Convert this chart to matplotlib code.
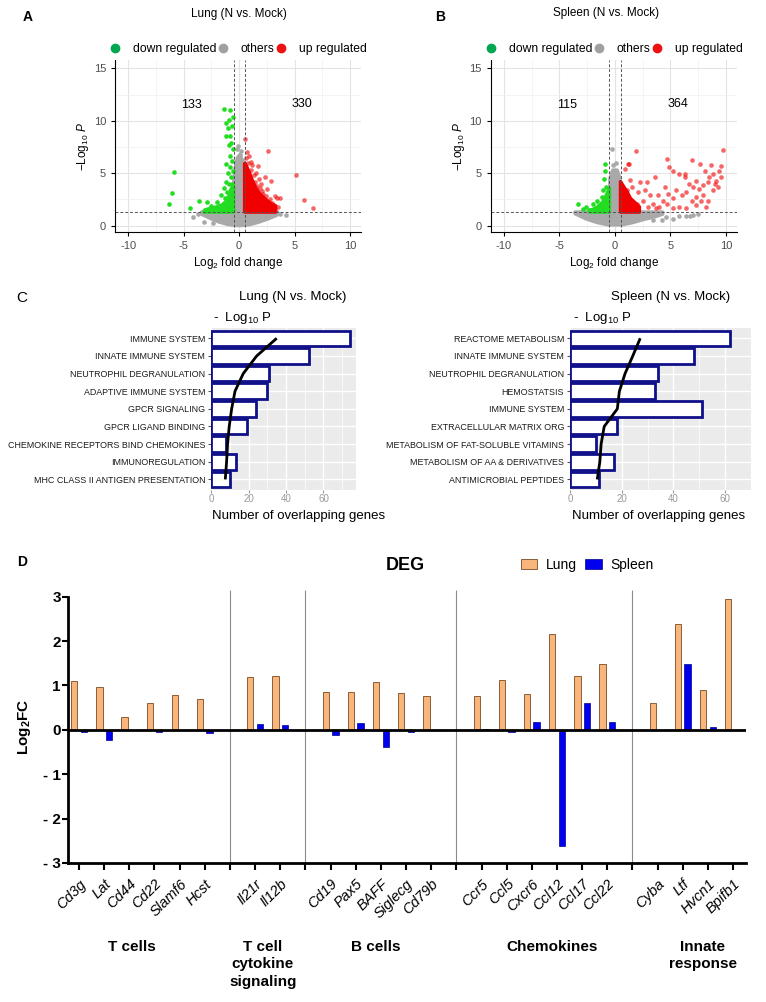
import numpy as np
import matplotlib.pyplot as plt
from matplotlib.lines import Line2D
from matplotlib.patches import Patch, Polygon
from matplotlib import font_manager
import matplotlib.transforms as mtransforms

plt.rcParams['font.family'] = ['Liberation Sans', 'DejaVu Sans']
plt.rcParams['mathtext.fontset'] = 'custom'
plt.rcParams['mathtext.rm'] = 'Liberation Sans'
plt.rcParams['mathtext.it'] = 'Liberation Sans:italic'
plt.rcParams['mathtext.bf'] = 'Liberation Sans:bold'

# ---------------- data: volcano plots ----------------
# dense regions are kept as outlines, sparse points as single dots
lung_grey_env_x = [-3.4, -2.6, -1.8, -1.0, -0.3, 0.3, 1.0, 1.8, 2.6, 3.4, 3.5, 0.5, 0.45, 0.3, 0.1, -0.15, -0.35, -0.5, -0.5, -3.4]
lung_grey_env_y = [1.1, 0.7, 0.35, 0.12, 0.02, 0.02, 0.12, 0.35, 0.65, 1.0, 1.3, 1.3, 4.8, 6.0, 6.8, 6.5, 5.5, 4.0, 1.3, 1.3]
lung_grey_x = [-4.2, -3.2, -2.4, 4.2, -0.2, 0.1, 0.3, -0.1, 3.7, -3.7, 0.2, -0.3]
lung_grey_y = [0.8, 0.4, 0.3, 1.0, 7.3, 6.7, 6.3, 7.6, 1.1, 1.1, 7.1, 6.0]

lung_green_env_x = [-3.1, -0.5, -0.5, -0.65, -0.85, -1.1, -1.5, -2.0, -2.6, -3.1]
lung_green_env_y = [1.3, 1.3, 3.8, 3.6, 3.0, 2.4, 2.0, 1.8, 1.65, 1.5]
lung_green_x = [-5.9, -6.1, -6.3, -4.4, -3.6, -2.9, -2.0, -1.4, -0.85, -0.9, -1.2, -1.0, -1.15, -0.85,
                -0.7, -0.9, -0.85, -1.15, -0.8, -1.0, -0.75, -1.2, -0.9, -1.4, -0.7, -1.1, -0.6, -1.6,
                -0.8, -1.3, -2.5, -2.2, -1.9, -1.6, -1.2, -1.0, -0.7, -0.6, -0.9, -1.4, -2.8, -3.2,
                -1.7, -0.55, -1.1, -0.65, -0.6, -0.55, -0.6, -0.55, -0.6, -0.55]
lung_green_y = [5.1, 3.1, 2.1, 1.7, 2.4, 2.3, 2.3, 11.1, 11.0, 10.1, 9.8, 9.3, 8.6, 8.6,
                7.9, 7.7, 6.6, 5.9, 5.6, 5.0, 4.6, 4.2, 4.0, 3.6, 3.5, 3.2, 3.0, 2.9,
                2.7, 2.6, 1.9, 1.6, 1.5, 1.8, 1.9, 2.2, 2.3, 1.9, 1.6, 1.5, 1.5, 1.45,
                1.4, 1.5, 1.4, 2.6, 4.0, 5.2, 6.2, 7.3, 9.5, 10.4]

lung_red_env_x = [0.5, 3.3, 3.3, 2.9, 2.4, 1.9, 1.5, 1.2, 0.95, 0.7, 0.5]
lung_red_env_y = [1.3, 1.3, 1.9, 2.1, 2.5, 3.0, 3.6, 4.3, 5.0, 5.6, 6.0]
lung_red_x = [0.5, 2.6, 1.1, 1.7, 5.1, 2.3, 2.85, 3.2, 3.7, 5.85, 6.7, 1.2, 1.5, 0.9, 2.0,
              2.5, 2.2, 2.8, 3.0, 1.8, 0.7, 1.1, 2.6, 3.4, 1.4, 0.6, 0.8, 1.3, 2.1, 1.6,
              3.5, 3.1, 2.4, 1.9]
lung_red_y = [8.3, 7.1, 6.1, 5.7, 4.8, 4.6, 4.3, 2.8, 2.6, 2.45, 1.7, 5.8, 5.0, 6.6, 4.0,
              3.5, 3.0, 2.5, 2.2, 4.5, 7.0, 5.3, 2.0, 2.6, 4.2, 6.5, 6.0, 4.8, 3.3, 3.8,
              1.8, 1.6, 2.8, 3.6]

spleen_grey_env_x = [-3.6, -2.6, -1.6, -0.6, 0.6, 1.6, 2.6, 3.6, 4.3, 4.3, 0.5, 0.45, 0.2, -0.2, -0.45, -0.5, -3.6]
spleen_grey_env_y = [1.15, 0.65, 0.3, 0.08, 0.08, 0.3, 0.6, 0.85, 1.1, 1.3, 1.3, 4.5, 5.3, 5.3, 4.5, 1.3, 1.3]
spleen_grey_x = [-0.3, 3.4, 5.8, 6.4, 4.6, 5.2, 7.0, 7.5, 4.2, 0.1, -0.2, 6.8]
spleen_grey_y = [7.3, 0.55, 0.95, 0.95, 0.8, 0.6, 1.0, 1.1, 0.5, 6.0, 5.8, 0.9]

spleen_green_env_x = [-2.3, -0.5, -0.5, -0.7, -1.0, -1.4, -1.9, -2.3]
spleen_green_env_y = [1.3, 1.3, 3.6, 3.1, 2.4, 1.9, 1.6, 1.45]
spleen_green_x = [-3.3, -2.9, -2.6, -2.0, -1.6, -1.2, -1.0, -0.9, -0.87, -0.78, -0.72, -1.1, -1.4, -2.3, -0.9, -1.7]
spleen_green_y = [2.1, 1.6, 1.8, 2.05, 2.4, 2.7, 4.5, 5.9, 5.25, 3.7, 3.05, 3.4, 1.95, 1.5, 2.4, 1.5]

spleen_red_env_x = [0.5, 2.2, 2.2, 1.8, 1.4, 1.1, 0.8, 0.5]
spleen_red_env_y = [1.3, 1.3, 1.8, 2.2, 2.6, 3.2, 3.7, 4.2]
spleen_red_x = [1.9, 9.7, 4.65, 6.9, 7.7, 8.7, 9.6, 1.2, 0.9, 5.2, 5.8, 6.3, 8.15, 8.8, 9.4,
                9.1, 8.5, 8.4, 9.0, 8.8, 7.3, 6.7, 7.0, 7.6, 7.9, 7.3, 6.9, 6.4, 6.0, 5.5,
                5.2, 4.8, 4.3, 3.9, 3.4, 3.6, 2.85, 2.25, 1.35, 2.7, 2.1, 3.15, 2.55, 1.95,
                4.0, 4.65, 5.8, 6.4, 7.3, 8.2, 3.7, 3.0, 7.9, 9.6, 9.3, 8.4, 7.8, 5.2, 4.5,
                1.5, 1.05, 1.3, 4.9, 6.3]
spleen_red_y = [7.1, 7.2, 6.4, 6.3, 5.9, 5.8, 5.7, 5.9, 5.4, 5.2, 4.9, 4.9, 5.25, 4.9, 5.25,
                4.3, 4.6, 4.15, 4.0, 3.4, 4.3, 4.0, 3.7, 3.5, 2.9, 2.75, 2.4, 3.2, 2.9, 3.4,
                2.6, 3.05, 2.4, 2.9, 2.1, 4.6, 4.15, 4.15, 4.4, 3.4, 3.2, 2.9, 2.4, 2.1,
                1.8, 2.1, 1.8, 1.65, 1.95, 1.75, 1.65, 1.75, 3.85, 4.6, 3.7, 2.4, 2.4, 1.65, 3.7,
                3.7, 3.4, 5.9, 5.6, 4.6]

lung_counts = (133, 330)
spleen_counts = (115, 364)

# ---------------- data: pathway bars ----------------
lung_terms = ['IMMUNE SYSTEM', 'INNATE IMMUNE SYSTEM', 'NEUTROPHIL DEGRANULATION',
              'ADAPTIVE IMMUNE SYSTEM', 'GPCR SIGNALING', 'GPCR LIGAND BINDING',
              'CHEMOKINE RECEPTORS BIND CHEMOKINES', 'IMMUNOREGULATION',
              'MHC CLASS II ANTIGEN PRESENTATION']
lung_genes = [74, 52, 31, 30, 24, 19, 8, 13, 10]
lung_logp = [35.0, 24.3, 17.1, 12.7, 10.9, 9.6, 8.7, 8.2, 7.5]

spleen_terms = ['REACTOME METABOLISM', 'INNATE IMMUNE SYSTEM', 'NEUTROPHIL DEGRANULATION',
                'HEMOSTATSIS', 'IMMUNE SYSTEM', 'EXTRACELLULAR MATRIX ORG',
                'METABOLISM OF FAT-SOLUBLE VITAMINS', 'METABOLISM OF AA & DERIVATIVES',
                'ANTIMICROBIAL PEPTIDES']
spleen_genes = [62, 48, 34, 33, 51, 18, 10, 17, 11]
spleen_logp = [27.1, 24.2, 21.2, 19.0, 18.2, 13.1, 11.9, 11.4, 10.4]

# ---------------- data: DEG bars ----------------
genes = ['Cd3g', 'Lat', 'Cd44', 'Cd22', 'Slamf6', 'Hcst',
         'Il21r', 'Il12b',
         'Cd19', 'Pax5', 'BAFF', 'Siglecg', 'Cd79b',
         'Ccr5', 'Ccl5', 'Cxcr6', 'Ccl12', 'Ccl17', 'Ccl22',
         'Cyba', 'Ltf', 'Hvcn1', 'Bpifb1']
group_names = ['T cells', 'T cell\ncytokine\nsignaling', 'B cells', 'Chemokines', 'Innate\nresponse']
group_sizes = [6, 2, 5, 6, 4]
lung_fc = [1.10, 0.97, 0.28, 0.60, 0.78, 0.69,
           1.18, 1.21,
           0.85, 0.85, 1.08, 0.82, 0.76,
           0.76, 1.12, 0.81, 2.16, 1.21, 1.48,
           0.60, 2.38, 0.90, 2.94]
spleen_fc = [-0.04, -0.24, -0.01, -0.06, 0.0, -0.07,
             0.13, 0.11,
             -0.11, 0.15, -0.38, -0.06, 0.0,
             0.01, -0.05, 0.17, -2.62, 0.61, 0.18,
             0.0, 1.48, 0.07, 0.0]

# ---------------- layout helpers (pixel coords of the 766x1002 picture) ----------------
W, H = 766, 1002


def fx(x):
    return x / W


def fy(y):
    return 1 - y / H


def rect(l, r, t, b):
    return [l / W, 1 - b / H, (r - l) / W, (b - t) / H]


names = {f.name for f in font_manager.fontManager.ttflist}
NARROW = 'Liberation Sans Narrow' if 'Liberation Sans Narrow' in names else 'Liberation Sans'
TERM_SIZE = 7.3 if NARROW == 'Liberation Sans Narrow' else 6.4

GREY = '#A9A9A9'
GREEN = '#22DD22'
RED = '#F00000'

fig = plt.figure(figsize=(7.66, 10.02), dpi=100)


def volcano(ax, genv, gpts, grenv, grpts, renv, rpts, counts):
    ax.add_patch(Polygon(np.column_stack(genv), closed=True, fc=GREY, ec=GREY, lw=2.5,
                         joinstyle='round', zorder=2))
    ax.scatter(gpts[0], gpts[1], s=11, c=GREY, lw=0, zorder=3)
    ax.add_patch(Polygon(np.column_stack(grenv), closed=True, fc=GREEN, ec=GREEN, lw=2.5,
                         joinstyle='round', zorder=2))
    ax.scatter(grpts[0], grpts[1], s=11, c=GREEN, lw=0, zorder=3)
    ax.add_patch(Polygon(np.column_stack(renv), closed=True, fc=RED, ec=RED, lw=2.5,
                         joinstyle='round', zorder=2))
    ax.scatter(rpts[0], rpts[1], s=11, c=RED, alpha=0.6, lw=0, zorder=3)

    for xv in (-0.5, 0.5):
        ax.axvline(xv, color='#555555', lw=0.7, ls=(0, (3, 2)), zorder=4)
    ax.axhline(1.3, color='#555555', lw=0.7, ls=(0, (3, 2)), zorder=4)

    ax.text(-4.3, 11.5, str(counts[0]), fontsize=9, ha='center', va='center')
    ax.text(5.7, 11.6, str(counts[1]), fontsize=9, ha='center', va='center')

    ax.set_xlim(-11.2, 11)
    ax.set_ylim(-0.6, 15.8)
    ax.set_xticks([-10, -5, 0, 5, 10])
    ax.set_xticklabels(['-10', '-5', '0', '5', '10'])
    ax.set_yticks([0, 5, 10, 15])
    ax.set_xticks([-7.5, -2.5, 2.5, 7.5], minor=True)
    ax.set_yticks([2.5, 7.5, 12.5], minor=True)
    ax.grid(which='major', color='#E3E3E3', lw=0.8)
    ax.grid(which='minor', color='#F0F0F0', lw=0.5)
    ax.set_axisbelow(True)
    ax.tick_params(which='minor', length=0)
    ax.tick_params(which='major', length=3, labelsize=8, labelcolor='#4D4D4D')
    for s in ('top', 'right'):
        ax.spines[s].set_visible(False)
    ax.set_xlabel(r'$\mathrm{Log}_{2}$ fold change', fontsize=8.5, labelpad=3)
    ax.set_ylabel(r'$-\mathrm{Log}_{10}\ \mathit{P}$', fontsize=8.5, labelpad=2)

    handles = [Line2D([], [], marker='o', ls='', color=c, markersize=6)
               for c in ('#00A650', '#A0A0A0', '#EE1111')]
    ax.legend(handles, ['down regulated', 'others', 'up regulated'], ncol=3,
              loc='lower center', bbox_to_anchor=(0.5, 1.03), frameon=False,
              handlelength=1.0, handletextpad=1.0, columnspacing=0.0,
              fontsize=8.7, borderaxespad=0, borderpad=0)


axA = fig.add_axes(rect(115, 361, 60, 232))
volcano(axA, (lung_grey_env_x, lung_grey_env_y), (lung_grey_x, lung_grey_y),
        (lung_green_env_x, lung_green_env_y), (lung_green_x, lung_green_y),
        (lung_red_env_x, lung_red_env_y), (lung_red_x, lung_red_y), lung_counts)
fig.text(fx(239), fy(14), 'Lung (N vs. Mock)', fontsize=8.5, ha='center', va='center')
fig.text(fx(28), fy(17), 'A', fontsize=10, fontweight='bold', ha='center', va='center')

axB = fig.add_axes(rect(490.7, 737, 60, 232))
volcano(axB, (spleen_grey_env_x, spleen_grey_env_y), (spleen_grey_x, spleen_grey_y),
        (spleen_green_env_x, spleen_green_env_y), (spleen_green_x, spleen_green_y),
        (spleen_red_env_x, spleen_red_env_y), (spleen_red_x, spleen_red_y), spleen_counts)
fig.text(fx(606), fy(13), 'Spleen (N vs. Mock)', fontsize=8.5, ha='center', va='center')
fig.text(fx(440), fy(17), 'B', fontsize=10, fontweight='bold', ha='center', va='center')


# ---------------- panel C ----------------
def pathway(ax, terms, counts, logp, xmax):
    pos = np.arange(len(terms))
    ax.set_facecolor('#EBEBEB')
    ax.barh(pos, counts, height=0.88, color='white', edgecolor='#10108A', lw=2, zorder=3)
    ax.plot(logp, pos, color='black', lw=2, zorder=4, solid_capstyle='butt')
    ax.set_ylim(len(terms) - 0.4, -0.6)
    ax.set_xlim(-0.3, xmax)
    ax.set_xticks([0, 20, 40, 60])
    ax.set_xticks([10, 30, 50, 70], minor=True)
    ax.grid(axis='x', which='major', color='white', lw=1.0)
    ax.grid(axis='x', which='minor', color='white', lw=0.5)
    ax.grid(axis='y', which='major', color='white', lw=1.0)
    ax.set_axisbelow(True)
    ax.set_yticks(pos)
    ax.set_yticklabels(terms, fontfamily=NARROW, fontsize=TERM_SIZE, color='#1A1A1A')
    ax.tick_params(axis='y', length=2, color='#555555', pad=2)
    ax.tick_params(axis='x', which='major', length=2, color='#999999', labelsize=7,
                   labelcolor='#999999', pad=1)
    ax.tick_params(axis='x', which='minor', length=0)
    for s in ax.spines.values():
        s.set_visible(False)


axC1 = fig.add_axes(rect(210.7, 356, 327.7, 490))
pathway(axC1, lung_terms, lung_genes, lung_logp, 77.4)
axC2 = fig.add_axes(rect(569.7, 750.7, 327.7, 490))
pathway(axC2, spleen_terms, spleen_genes, spleen_logp, 64.4)

fig.text(fx(22), fy(298), 'C', fontsize=11, ha='center', va='center')
fig.text(fx(293), fy(297), 'Lung (N vs. Mock)', fontsize=9.5, ha='center', va='center')
fig.text(fx(671), fy(297), 'Spleen (N vs. Mock)', fontsize=9.5, ha='center', va='center')
fig.text(fx(213), fy(318), r'-  Log$_{10}$ P', fontsize=9.5, ha='left', va='center')
fig.text(fx(573), fy(318), r'-  Log$_{10}$ P', fontsize=9.5, ha='left', va='center')
fig.text(fx(212), fy(516), 'Number of overlapping genes', fontsize=9.5, ha='left', va='center')
fig.text(fx(572), fy(516), 'Number of overlapping genes', fontsize=9.5, ha='left', va='center')

# ---------------- panel D ----------------
axD = fig.add_axes(rect(67.7, 745.7, 590, 863))
slots = []
sep_slots = []
start = 0
for size in group_sizes:
    slots.extend(range(start, start + size))
    start += size
    sep_slots.append(start)
    start += 1
sep_slots = sep_slots[:-1]
slots = np.array(slots)

bw = 0.25
axD.bar(slots - 0.19, lung_fc, width=bw, color='#F9B67C', edgecolor='#7A4A22', lw=0.6,
        zorder=3, label='Lung')
axD.bar(slots + 0.19, spleen_fc, width=bw, color='#0000EE', edgecolor='#00008B', lw=0.5,
        zorder=3, label='Spleen')
axD.axhline(0, color='black', lw=2, zorder=5)
axD.vlines(sep_slots, -3, 3.15, colors='#8C8C8C', lw=0.8, zorder=1)

axD.set_xlim(-0.45, 26.5)
axD.set_ylim(-3, 3.15)
axD.spines['left'].set_bounds(-3, 3)
axD.spines['left'].set_linewidth(2)
axD.spines['bottom'].set_linewidth(2)
for s in ('top', 'right'):
    axD.spines[s].set_visible(False)

axD.set_yticks([3, 2, 1, 0, -1, -2, -3])
axD.set_yticklabels(['3', '2', '1', '0', '- 1', '- 2', '- 3'], fontweight='bold', fontsize=11)
axD.tick_params(axis='y', length=4, width=1.5, pad=1)

labels = [''] * 27
for s, g in zip(slots, genes):
    labels[s] = g
axD.set_xticks(np.arange(27))
axD.set_xticklabels(labels, rotation=45, ha='right', va='top', rotation_mode='anchor',
                    fontstyle='italic', fontsize=10.5)
axD.tick_params(axis='x', length=5, width=1.5, pad=5)

axD.set_ylabel(r'$\mathbf{Log}_{\mathbf{2}}\mathbf{FC}$', fontsize=11)
axD.yaxis.set_label_coords((33 - 67.7) / 678, 0.5)

group_label_shift = [-0.4, -0.2, -0.2, 0.3, 0.3]
trans = mtransforms.blended_transform_factory(axD.transData, fig.transFigure)
start = 0
for name, size, shift in zip(group_names, group_sizes, group_label_shift):
    center = start + (size - 1) / 2 + shift
    axD.text(center, fy(940), name, transform=trans, ha='center', va='top',
             fontweight='bold', fontsize=11, linespacing=1.3)
    start += size + 1

fig.text(fx(22), fy(562), 'D', fontsize=10, fontweight='bold', ha='center', va='center')
fig.text(fx(405), fy(566), 'DEG', fontsize=13, fontweight='bold', ha='center', va='center')
fig.legend(handles=[Patch(fc='#F9B67C', ec='#7A4A22', lw=0.6), Patch(fc='#0000EE', ec='#00008B', lw=0.5)],
           labels=['Lung', 'Spleen'], loc='center', bbox_to_anchor=(fx(587), fy(565)), ncol=2,
           handlelength=1.2, handleheight=0.8, handletextpad=0.6, columnspacing=0.6,
           frameon=False, fontsize=10)

fig.savefig('out.png', dpi=100)
